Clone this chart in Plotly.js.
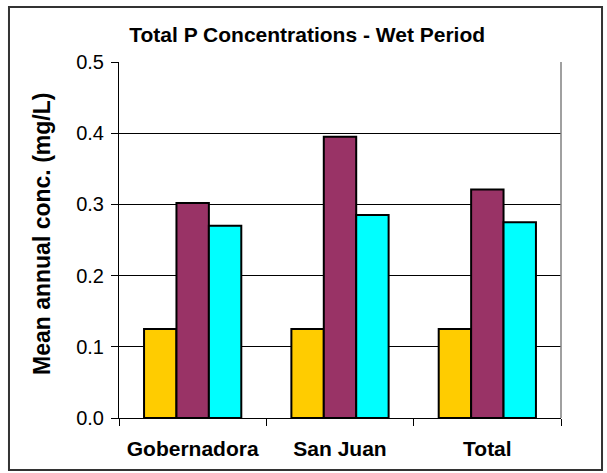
<!DOCTYPE html>
<html>
<head>
<meta charset="utf-8">
<script src="https://cdn.plot.ly/plotly-3.0.1.min.js"></script>
<style>html,body{margin:0;padding:0;background:#fff;}#chart{width:607px;height:473px;}</style>
</head>
<body>
<div id="chart"></div>
<script>
const categories = ["Gobernadora", "San Juan", "Total"];
const seriesA = [0.125, 0.125, 0.125];
const seriesB = [0.302, 0.395, 0.321];
const seriesC = [0.270, 0.285, 0.275];
const yTicks = [0.0, 0.1, 0.2, 0.3, 0.4, 0.5];
const yTitle = "Mean annual conc. (mg/L)";

const FONT = "Liberation Sans, Arial, sans-serif";
const barLine = {color: "#000000", width: 2};

const traces = [
  {type: "bar", name: "A", x: categories, y: seriesA, marker: {color: "#FFCC00", line: barLine}},
  {type: "bar", name: "B", x: categories, y: seriesB, marker: {color: "#993366", line: barLine}},
  {type: "bar", name: "C", x: categories, y: seriesC, marker: {color: "#00FFFF", line: barLine}}
];

const layout = {
  width: 607, height: 473,
  margin: {l: 119, r: 46, t: 62, b: 55, pad: 0},
  paper_bgcolor: "#ffffff", plot_bgcolor: "#ffffff",
  showlegend: false,
  barmode: "group", bargap: 0.34, bargroupgap: 0,
  font: {family: FONT, color: "#000000"},
  title: {
    text: "Total P Concentrations - Wet Period",
    font: {family: FONT, size: 21, weight: "bold", color: "#000"},
    xref: "container", yref: "container", x: 0.506, y: 0.926, xanchor: "center", yanchor: "middle"
  },
  xaxis: {
    type: "category",
    tickson: "boundaries", ticks: "outside", ticklen: 7, tickcolor: "#000", tickwidth: 1,
    showline: true, linecolor: "#000", linewidth: 1,
    showgrid: false,
    tickfont: {family: FONT, size: 21, weight: "bold", color: "#000"},
    ticklabelstandoff: 12
  },
  yaxis: {
    range: [0, 0.5], tickvals: yTicks, tickformat: ".1f",
    ticks: "outside", ticklen: 7, tickcolor: "#000", tickwidth: 1,
    showline: true, linecolor: "#000", linewidth: 1,
    showgrid: true, gridcolor: "#000", gridwidth: 1,
    zeroline: false,
    tickfont: {family: FONT, size: 20, color: "#000"},
    ticklabelstandoff: 3
  },
  annotations: [
    {text: yTitle, textangle: -90, showarrow: false,
     xref: "paper", yref: "paper", x: (42 - 119) / 442, y: (418 - 234) / 356,
     xanchor: "center", yanchor: "middle",
     font: {family: FONT, size: 23, weight: "bold", color: "#000"}}
  ],
  shapes: [
    {type: "line", xref: "x domain", yref: "y domain", x0: 1, x1: 1, y0: 0, y1: 1, line: {color: "#808080", width: 1.5}},
    {type: "rect", xref: "paper", yref: "paper", x0: -0.2489, x1: 1.0928, y0: -0.146, y1: 1.1545, line: {color: "#333333", width: 2}}
  ]
};

Plotly.newPlot("chart", traces, layout, {displayModeBar: false, responsive: false});
</script>
</body>
</html>
